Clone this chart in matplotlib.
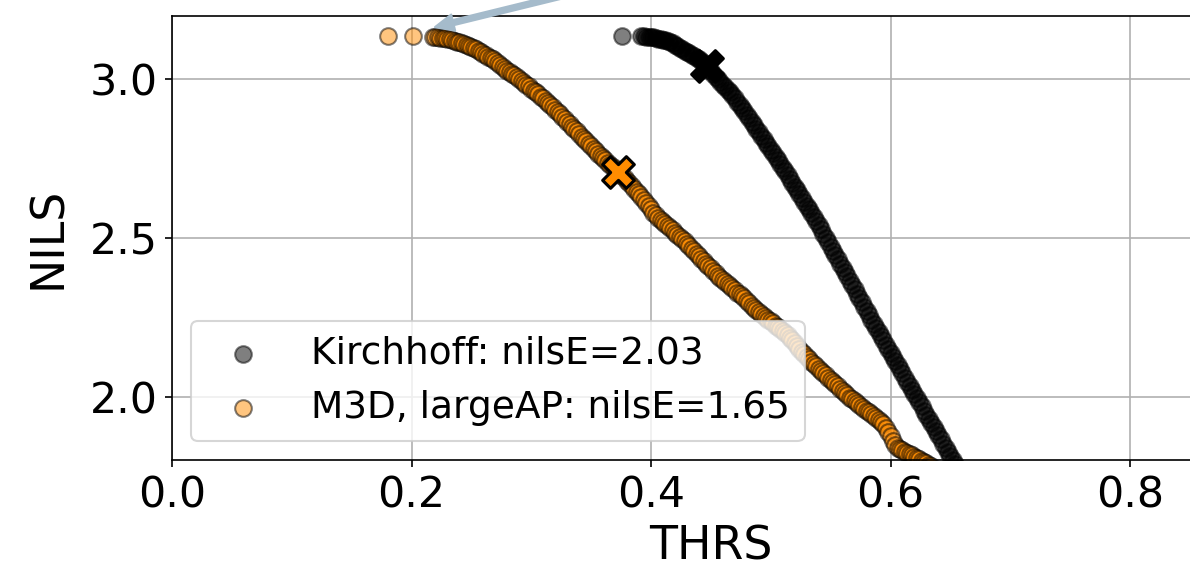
import matplotlib
matplotlib.use("Agg")
import matplotlib.pyplot as plt

# Kirchhoff curve (THRS, NILS)
kirch_thrs = [0.376,
    0.392, 0.394, 0.396, 0.398, 0.400, 0.402, 0.404, 0.406, 0.408, 0.410,
    0.412, 0.414, 0.416, 0.418, 0.420, 0.422, 0.424, 0.426, 0.428, 0.430,
    0.432, 0.434, 0.436, 0.438, 0.440, 0.442, 0.444, 0.446, 0.448, 0.450,
    0.452, 0.454, 0.456, 0.458, 0.460, 0.462, 0.464, 0.466, 0.468, 0.470,
    0.472, 0.474, 0.476, 0.478, 0.480, 0.482, 0.484, 0.486, 0.488, 0.490,
    0.492, 0.494, 0.496, 0.498, 0.500, 0.502, 0.504, 0.506, 0.508, 0.510,
    0.512, 0.514, 0.516, 0.518, 0.520, 0.522, 0.524, 0.526, 0.528, 0.530,
    0.532, 0.534, 0.536, 0.538, 0.540, 0.542, 0.544, 0.546, 0.548, 0.550,
    0.552, 0.554, 0.556, 0.558, 0.560, 0.562, 0.564, 0.566, 0.568, 0.570,
    0.572, 0.574, 0.576, 0.578, 0.580, 0.582, 0.584, 0.586, 0.588, 0.590,
    0.592, 0.594, 0.596, 0.598, 0.600, 0.602, 0.604, 0.606, 0.608, 0.610,
    0.612, 0.614, 0.616, 0.618, 0.620, 0.622, 0.624, 0.626, 0.628, 0.630,
    0.632, 0.634, 0.636, 0.638, 0.640, 0.642, 0.644, 0.646, 0.648, 0.650,
    0.652, 0.654, 0.656]
kirch_nils = [3.136,
    3.136, 3.136, 3.135, 3.135, 3.134, 3.133, 3.131, 3.129, 3.127, 3.125,
    3.123, 3.120, 3.118, 3.114, 3.109, 3.105, 3.100, 3.096, 3.091, 3.087,
    3.082, 3.078, 3.073, 3.068, 3.064, 3.059, 3.051, 3.043, 3.034, 3.026,
    3.018, 3.009, 3.001, 2.992, 2.984, 2.975, 2.967, 2.959, 2.950, 2.941,
    2.930, 2.920, 2.910, 2.899, 2.889, 2.878, 2.867, 2.856, 2.845, 2.834,
    2.823, 2.812, 2.801, 2.790, 2.778, 2.767, 2.756, 2.745, 2.733, 2.722,
    2.710, 2.698, 2.686, 2.674, 2.662, 2.650, 2.638, 2.626, 2.614, 2.602,
    2.590, 2.578, 2.566, 2.554, 2.541, 2.527, 2.514, 2.500, 2.487, 2.473,
    2.460, 2.446, 2.433, 2.419, 2.406, 2.392, 2.379, 2.365, 2.351, 2.338,
    2.324, 2.311, 2.297, 2.284, 2.270, 2.257, 2.243, 2.230, 2.217, 2.203,
    2.190, 2.177, 2.164, 2.151, 2.138, 2.125, 2.112, 2.099, 2.086, 2.073,
    2.060, 2.047, 2.034, 2.021, 2.008, 1.995, 1.982, 1.969, 1.956, 1.943,
    1.930, 1.917, 1.904, 1.891, 1.878, 1.865, 1.852, 1.839, 1.826, 1.813,
    1.800, 1.787, 1.774]

# M3D, largeAP curve
m3d_thrs = [0.180, 0.201,
    0.218, 0.220, 0.222, 0.224, 0.226, 0.228, 0.230, 0.232, 0.234, 0.236,
    0.238, 0.240, 0.242, 0.244, 0.246, 0.248, 0.250, 0.252, 0.254, 0.256,
    0.258, 0.260, 0.262, 0.264, 0.266, 0.268, 0.270, 0.272, 0.274, 0.276,
    0.278, 0.280, 0.282, 0.284, 0.286, 0.288, 0.290, 0.292, 0.294, 0.296,
    0.298, 0.300, 0.302, 0.304, 0.306, 0.308, 0.310, 0.312, 0.314, 0.316,
    0.318, 0.320, 0.322, 0.324, 0.326, 0.328, 0.330, 0.332, 0.334, 0.336,
    0.338, 0.340, 0.342, 0.344, 0.346, 0.348, 0.350, 0.352, 0.354, 0.356,
    0.358, 0.360, 0.362, 0.364, 0.366, 0.368, 0.370, 0.372, 0.374, 0.376,
    0.378, 0.380, 0.382, 0.384, 0.386, 0.388, 0.390, 0.392, 0.394, 0.396,
    0.398, 0.400, 0.402, 0.404, 0.406, 0.408, 0.410, 0.412, 0.414, 0.416,
    0.418, 0.420, 0.422, 0.424, 0.426, 0.428, 0.430, 0.432, 0.434, 0.436,
    0.438, 0.440, 0.442, 0.444, 0.446, 0.448, 0.450, 0.452, 0.454, 0.456,
    0.458, 0.460, 0.462, 0.464, 0.466, 0.468, 0.470, 0.472, 0.474, 0.476,
    0.478, 0.480, 0.482, 0.484, 0.486, 0.488, 0.490, 0.492, 0.494, 0.496,
    0.498, 0.500, 0.502, 0.504, 0.506, 0.508, 0.510, 0.512, 0.514, 0.516,
    0.518, 0.520, 0.522, 0.524, 0.526, 0.528, 0.530, 0.532, 0.534, 0.536,
    0.538, 0.540, 0.542, 0.544, 0.546, 0.548, 0.550, 0.552, 0.554, 0.556,
    0.558, 0.560, 0.562, 0.564, 0.566, 0.568, 0.570, 0.572, 0.574, 0.576,
    0.578, 0.580, 0.582, 0.584, 0.586, 0.588, 0.590, 0.592, 0.594, 0.596,
    0.598, 0.600, 0.602, 0.604, 0.606, 0.608, 0.610, 0.612, 0.614, 0.616,
    0.618, 0.620, 0.622, 0.624, 0.626, 0.628, 0.630, 0.632, 0.634]
m3d_nils = [3.136, 3.136,
    3.134, 3.134, 3.133, 3.132, 3.131, 3.130, 3.128, 3.126, 3.124, 3.122,
    3.119, 3.117, 3.114, 3.112, 3.109, 3.106, 3.103, 3.099, 3.095, 3.090,
    3.086, 3.081, 3.077, 3.072, 3.068, 3.063, 3.058, 3.052, 3.046, 3.040,
    3.034, 3.028, 3.022, 3.018, 3.013, 3.007, 3.001, 2.996, 2.990, 2.984,
    2.978, 2.971, 2.965, 2.959, 2.953, 2.946, 2.940, 2.933, 2.927, 2.920,
    2.913, 2.905, 2.898, 2.890, 2.882, 2.875, 2.867, 2.859, 2.851, 2.843,
    2.836, 2.828, 2.820, 2.812, 2.805, 2.797, 2.790, 2.782, 2.774, 2.766,
    2.759, 2.752, 2.745, 2.738, 2.731, 2.723, 2.716, 2.709, 2.702, 2.695,
    2.688, 2.681, 2.674, 2.664, 2.655, 2.646, 2.638, 2.628, 2.619, 2.609,
    2.600, 2.590, 2.580, 2.571, 2.563, 2.556, 2.550, 2.543, 2.537, 2.530,
    2.524, 2.517, 2.510, 2.503, 2.497, 2.490, 2.482, 2.474, 2.466, 2.458,
    2.450, 2.442, 2.434, 2.426, 2.419, 2.411, 2.404, 2.396, 2.389, 2.381,
    2.374, 2.367, 2.361, 2.354, 2.348, 2.341, 2.335, 2.328, 2.322, 2.316,
    2.310, 2.302, 2.295, 2.287, 2.279, 2.272, 2.266, 2.260, 2.254, 2.248,
    2.243, 2.237, 2.231, 2.224, 2.218, 2.212, 2.206, 2.199, 2.193, 2.186,
    2.178, 2.168, 2.159, 2.150, 2.141, 2.133, 2.125, 2.117, 2.110, 2.103,
    2.096, 2.088, 2.081, 2.074, 2.067, 2.060, 2.053, 2.046, 2.039, 2.032,
    2.025, 2.018, 2.011, 2.004, 1.997, 1.991, 1.985, 1.980, 1.974, 1.968,
    1.962, 1.956, 1.950, 1.945, 1.939, 1.933, 1.927, 1.921, 1.915, 1.902,
    1.888, 1.875, 1.861, 1.848, 1.838, 1.834, 1.830, 1.826, 1.822, 1.819,
    1.815, 1.811, 1.807, 1.803, 1.798, 1.794, 1.789, 1.785, 1.780]

# chosen (nilsE) points marked with X
kirch_pick = (0.4465, 3.042)
m3d_pick = (0.3724, 2.709)

labels = ['Kirchhoff: nilsE=2.03', 'M3D, largeAP: nilsE=1.65']

fig = plt.figure(figsize=(1190 / 150, 573 / 150), dpi=150)
ax = fig.add_axes([172 / 1190, 1 - 460 / 573, 1077.75 / 1190, 444 / 573])
ax.set_axisbelow(True)

ax.scatter(kirch_thrs, kirch_nils, s=64, c='k', alpha=0.5, edgecolors='k',
           label=labels[0])
ax.scatter(m3d_thrs, m3d_nils, s=64, c='darkorange', alpha=0.5, edgecolors='k',
           label=labels[1])
ax.scatter([kirch_pick[0]], [kirch_pick[1]], s=230, marker='X', c='k',
           edgecolors='k', linewidths=1.5, zorder=4)
ax.scatter([m3d_pick[0]], [m3d_pick[1]], s=230, marker='X', c='darkorange',
           edgecolors='k', linewidths=1.5, zorder=4)

ax.annotate('', xy=(0.2196, 3.165), xytext=(0.43, 3.36),
            arrowprops=dict(facecolor='#a5bbcb', edgecolor='#a5bbcb', width=2.5,
                            headwidth=8, headlength=9, shrink=0.0),
            annotation_clip=False)

ax.set_xlim(0, 0.9)
ax.set_ylim(1.8, 3.2)
ax.set_xticks([0.0, 0.2, 0.4, 0.6, 0.8])
ax.set_yticks([2.0, 2.5, 3.0])
ax.tick_params(labelsize=20.5)
ax.set_xlabel('THRS', fontsize=22)
ax.set_ylabel('NILS', fontsize=22, labelpad=9)
ax.grid(True)
ax.legend(loc='lower left', fontsize=18)

fig.savefig('out.png', dpi=150)
